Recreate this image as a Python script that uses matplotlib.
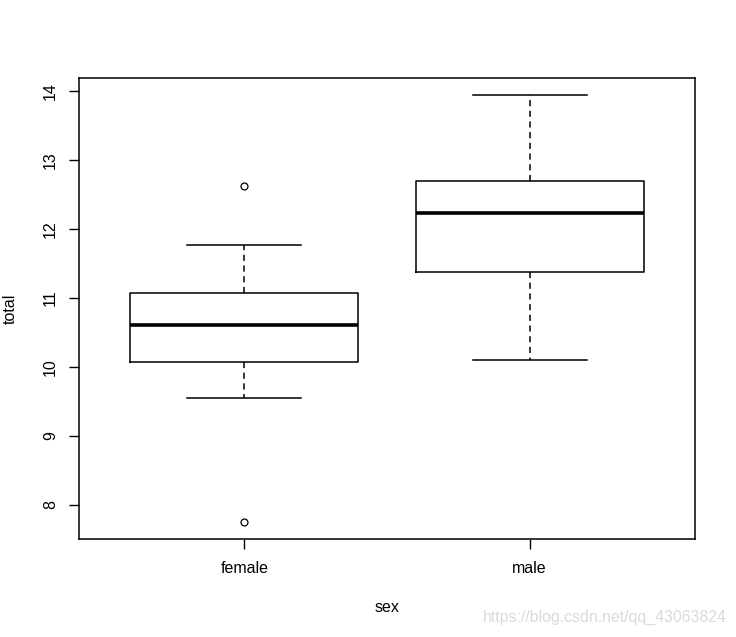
import matplotlib.pyplot as plt

plt.rcParams['font.family'] = ['Liberation Sans', 'DejaVu Sans']

# box stats
groups = ['female', 'male']
whislo = [9.55, 10.10]
q1 = [10.07, 11.38]
med = [10.61, 12.23]
q3 = [11.07, 12.69]
whishi = [11.77, 13.94]
fliers = [[12.62, 7.74], []]

stats = []
for i in range(len(groups)):
    stats.append(dict(label=groups[i], whislo=whislo[i], q1=q1[i], med=med[i],
                      q3=q3[i], whishi=whishi[i], fliers=fliers[i]))

fig = plt.figure(figsize=(7.36, 6.37), dpi=100)
ax = fig.add_axes([0.1073, 0.1538, 0.8370, 0.7238])

ax.bxp(stats, positions=[1, 2], widths=0.8, capwidths=0.4,
       boxprops=dict(color='black', linewidth=1.1),
       whiskerprops=dict(color='black', linewidth=1.1, linestyle=(0, (4, 3))),
       capprops=dict(color='black', linewidth=1.1),
       medianprops=dict(color='black', linewidth=2.6),
       flierprops=dict(marker='o', markersize=5, markerfacecolor='none',
                       markeredgecolor='black', markeredgewidth=0.9))

ax.set_xlim(0.42, 2.58)
ax.set_ylim(7.50, 14.19)
ax.set_yticks([8, 9, 10, 11, 12, 13, 14])
ax.set_yticklabels(['8', '9', '10', '11', '12', '13', '14'], rotation=90, va='center')
ax.set_xticks([1, 2])
ax.set_xticklabels(groups)
ax.tick_params(direction='out', length=7, width=1, labelsize=11.5)
ax.tick_params(axis='x', pad=9)
ax.tick_params(axis='y', pad=8)
for s in ax.spines.values():
    s.set_linewidth(1.1)

ax.set_xlabel('sex', fontsize=11.5, labelpad=17)
ax.set_ylabel('total', fontsize=11.5, labelpad=18)

fig.text(0.988, 0.030, 'https://blog.csdn.net/qq_43063824', ha='right', va='center',
         fontsize=11.4, color='#dadada')

plt.savefig('out.png', dpi=100)
